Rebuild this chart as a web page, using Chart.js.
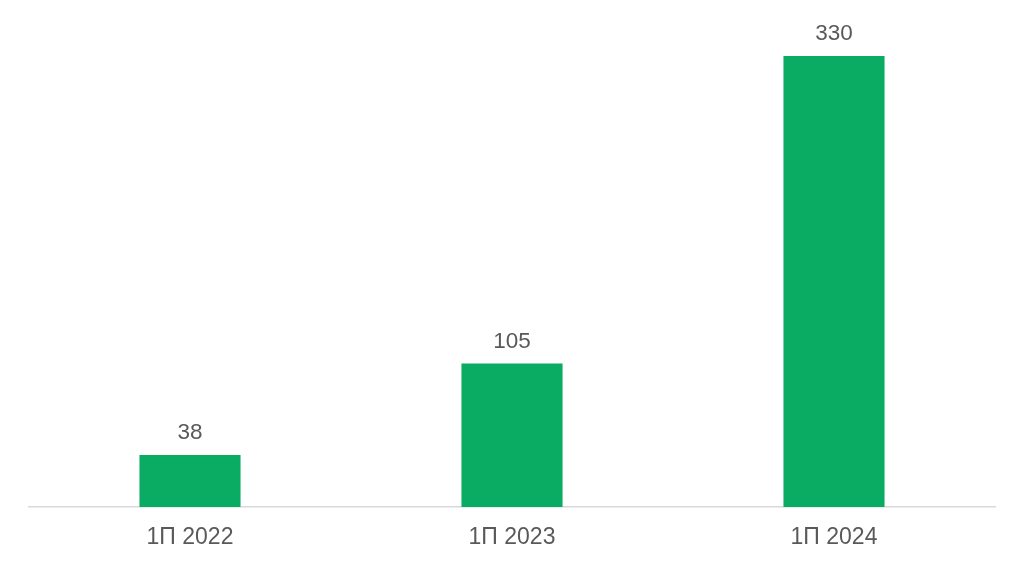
<!DOCTYPE html>
<html>
<head>
<meta charset="utf-8">
<script src="https://cdn.jsdelivr.net/npm/chart.js@4/dist/chart.umd.min.js"></script>
<style>
html,body{margin:0;padding:0;background:#fff;}
#wrap{width:1024px;height:566px;}
</style>
</head>
<body>
<div id="wrap"><canvas id="c" width="1024" height="566"></canvas></div>
<script>
const categories = ["1П 2022", "1П 2023", "1П 2024"];
const values = [38, 105, 330];

const FONT = '"Liberation Sans", Arial, sans-serif';
const TEXT = '#595959';

const valueLabels = {
  id: 'valueLabels',
  afterDatasetsDraw(chart) {
    const ctx = chart.ctx;
    const meta = chart.getDatasetMeta(0);
    ctx.save();
    ctx.font = '22.5px ' + FONT;
    ctx.fillStyle = TEXT;
    ctx.textAlign = 'center';
    ctx.textBaseline = 'alphabetic';
    meta.data.forEach((bar, i) => {
      ctx.fillText(String(values[i]), bar.x, bar.y - 16);
    });
    ctx.restore();
  }
};

new Chart(document.getElementById('c'), {
  type: 'bar',
  data: {
    labels: categories,
    datasets: [{
      data: values,
      backgroundColor: '#0aab62',
      borderWidth: 0,
      barPercentage: 0.628,
      categoryPercentage: 0.5
    }]
  },
  options: {
    responsive: false,
    animation: false,
    layout: { padding: { left: 29, right: 29, top: 56, bottom: 0 } },
    plugins: { legend: { display: false }, tooltip: { enabled: false } },
    scales: {
      x: {
        grid: { display: false, drawTicks: false },
        border: { display: true, color: '#d9d9d9', width: 1.5 },
        ticks: { color: TEXT, font: { family: FONT, size: 23 }, padding: 17 },
        afterFit(scale) { scale.height = 59; }
      },
      y: {
        display: false,
        min: 0,
        max: 330
      }
    }
  },
  plugins: [valueLabels]
});
</script>
</body>
</html>
